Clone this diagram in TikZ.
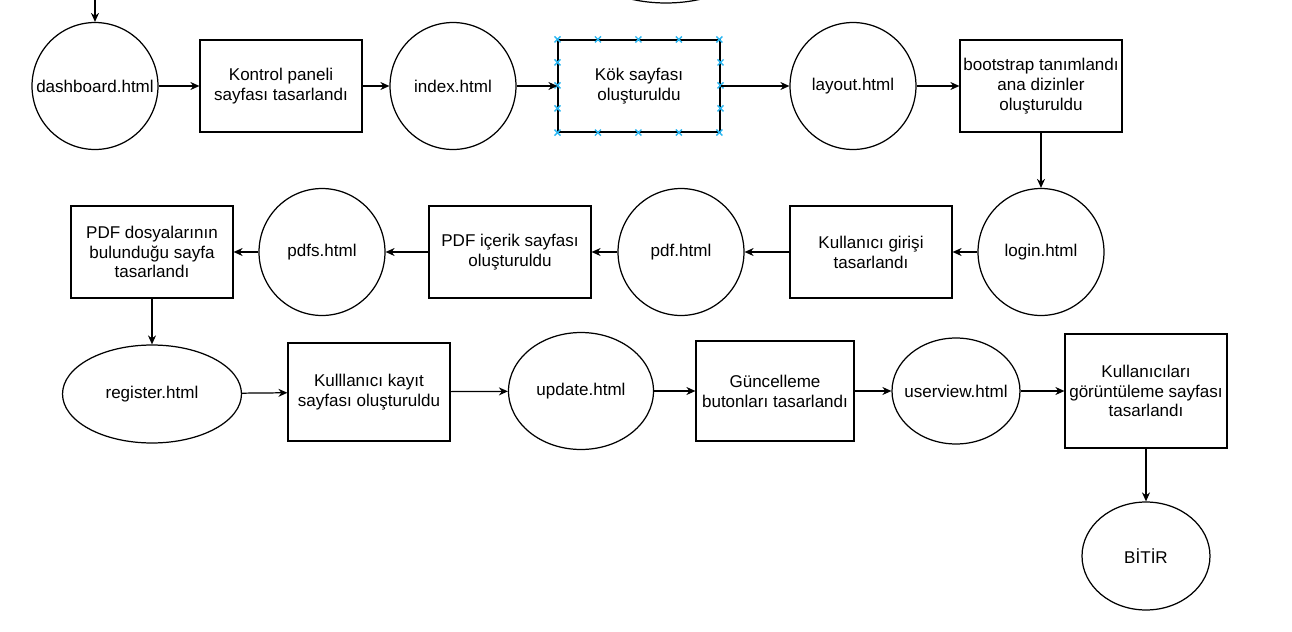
\documentclass[tikz,border=0pt]{standalone}
\usepackage{fontspec}
\setmainfont{Liberation Sans}
\usetikzlibrary{arrows, shapes}
\usetikzlibrary{arrows.meta}
\definecolor{handle}{HTML}{29B6F2}

\begin{document}
\begin{tikzpicture}[x=0.02cm,y=-0.02cm]
\useasboundingbox (0,0) rectangle (1292,632);
\begin{scope}[every node/.style={ellipse,draw,line width=0.7pt,inner sep=0pt,
              minimum width=2.52cm,minimum height=2.54cm,
              font=\fontsize{9.7}{11.3}\selectfont}]
    \node (A) at (95,86) {\makebox[0pt]{dashboard.html}};
    \node (C) at (453,86) {\makebox[0pt]{index.html}};
    \node (E) at (853,86) {\makebox[0pt]{layout.html}};
    \node (G) at (1041,252) {\makebox[0pt]{login.html}};
    \node (I) at (681,252) {\makebox[0pt]{pdf.html}};
    \node (K) at (322,252) {\makebox[0pt]{pdfs.html}};
    \node[minimum width=3.58cm,minimum height=1.96cm] (M) at (152,394) {\makebox[0pt]{register.html}};
    \node[minimum width=2.9cm,minimum height=2.34cm] (O) at (581,391) {\makebox[0pt]{update.html}};
    \node[minimum width=2.56cm,minimum height=2.12cm] (Q) at (956,391) {\makebox[0pt]{userview.html}};
    \node[minimum width=2.56cm,minimum height=2.16cm] (S) at (1146,556) {\makebox[0pt]{BİTİR}};
    \node[minimum width=3.58cm,minimum height=1.96cm] (T) at (666,-46) {};
\end{scope}

\begin{scope}[every node/.style={rectangle,draw,line width=0.7pt,inner sep=0pt,align=center,
              minimum width=3.24cm,minimum height=1.84cm,
              font=\fontsize{9.7}{11.3}\selectfont}]
    \node (B) at (281,86) {Kontrol paneli\\sayfası tasarlandı};
    \node (D) at (639,86) {Kök sayfası\\oluşturuldu};
    \node (F) at (1041,86) {bootstrap tanımlandı\\ana dizinler\\oluşturuldu};
    \node (H) at (871,252) {Kullanıcı girişi\\tasarlandı};
    \node (J) at (510,252) {PDF içerik sayfası\\oluşturuldu};
    \node (L) at (152,252) {PDF dosyalarının\\bulunduğu sayfa\\tasarlandı};
    \node[minimum height=1.96cm] (N) at (369,392) {Kulllanıcı kayıt\\sayfası oluşturuldu};
    \node[minimum width=3.16cm,minimum height=2cm] (P) at (775,391) {Güncelleme\\butonları tasarlandı};
    \node[minimum height=2.28cm] (R) at (1146,391) {Kullanıcıları\\görüntüleme sayfası\\tasarlandı};
\end{scope}
\coordinate (Z) at (95,-20);

% selection handles
\foreach \i in {0,...,4} {
    \draw[handle,line width=0.8pt] ([xshift=\i*0.81cm]D.north west) ++(-3,-3) -- ++(6,6) ++(-6,0) -- ++(6,-6);
    \draw[handle,line width=0.8pt] ([xshift=\i*0.81cm]D.south west) ++(-3,-3) -- ++(6,6) ++(-6,0) -- ++(6,-6);
}
\foreach \i in {1,...,3} {
    \draw[handle,line width=0.8pt] ([yshift=-\i*0.46cm]D.north west) ++(-3,-3) -- ++(6,6) ++(-6,0) -- ++(6,-6);
    \draw[handle,line width=0.8pt] ([yshift=-\i*0.46cm]D.north east) ++(-3,-3) -- ++(6,6) ++(-6,0) -- ++(6,-6);
}

\begin{scope}[>={Stealth[black,length=1.8mm,width=1.6mm]},
              every edge/.style={draw=black,line width=0.7pt}]
    \path [->] (Z) edge (A);
    \path [->] (A) edge (B);
    \path [->] (B) edge (C);
    \path [->] (C) edge (D);
    \path [->] (D) edge (E);
    \path [->] (E) edge (F);
    \path [->] (F) edge (G);
    \path [->] (G) edge (H);
    \path [->] (H) edge (I);
    \path [->] (I) edge (J);
    \path [->] (J) edge (K);
    \path [->] (K) edge (L);
    \path [->] (L) edge (M);
    \path [->] (M) edge (N);
    \path [->] (N) edge (O);
    \path [->] (O) edge (P);
    \path [->] (P) edge (Q);
    \path [->] (Q) edge (R);
    \path [->] (R) edge (S);
\end{scope}
\end{tikzpicture}
\end{document}
